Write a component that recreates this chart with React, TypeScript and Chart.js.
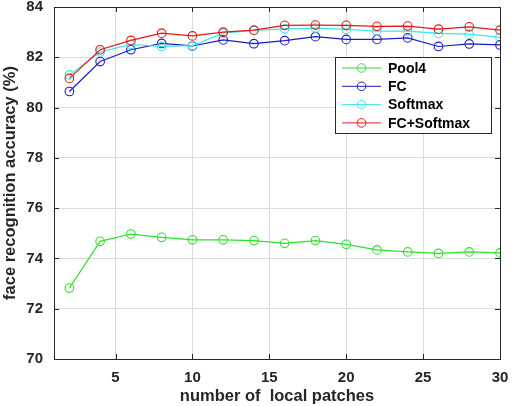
import React, { useEffect, useRef } from "react";
import { Chart, registerables } from "chart.js";

Chart.register(...registerables);

const xValues = [2, 4, 6, 8, 10, 12, 14, 16, 18, 20, 22, 24, 26, 28, 30];
const pool4 = [72.82, 74.68, 74.97, 74.84, 74.74, 74.74, 74.71, 74.6, 74.71, 74.56, 74.34, 74.26, 74.2, 74.26, 74.22];
const fc = [80.64, 81.83, 82.3, 82.55, 82.45, 82.69, 82.54, 82.66, 82.82, 82.71, 82.71, 82.77, 82.43, 82.53, 82.49];
const softmax = [81.3, 82.21, 82.51, 82.43, 82.46, 82.96, 83.07, 83.13, 83.16, 83.11, 83.04, 83.04, 82.95, 82.92, 82.79];
const fcSoftmax = [81.16, 82.3, 82.67, 82.96, 82.85, 83.0, 83.08, 83.27, 83.28, 83.27, 83.23, 83.24, 83.12, 83.21, 83.08];

const seriesNames = ["Pool4", "FC", "Softmax", "FC+Softmax"];
const seriesColors = ["#2fe02f", "#1c1cc4", "#3ee6e6", "#e01a1a"];
const xTicks = [5, 10, 15, 20, 25, 30];
const yTicks = [70, 72, 74, 76, 78, 80, 82, 84];

const FONT = "'Liberation Sans', Arial, sans-serif";
const AXIS_COLOR = "#262626";

const boxPlugin = {
  id: "boxPlugin",
  afterDatasetsDraw(chart: any) {
    const { ctx, chartArea: a, scales } = chart;
    ctx.save();
    ctx.strokeStyle = AXIS_COLOR;
    ctx.lineWidth = 1;
    ctx.strokeRect(Math.round(a.left) + 0.5, Math.round(a.top) + 0.5, Math.round(a.right - a.left), Math.round(a.bottom - a.top));
    const tl = 5;
    ctx.beginPath();
    for (const v of xTicks) {
      const px = Math.round(scales.x.getPixelForValue(v)) + 0.5;
      ctx.moveTo(px, a.bottom);
      ctx.lineTo(px, a.bottom - tl);
      ctx.moveTo(px, a.top);
      ctx.lineTo(px, a.top + tl);
    }
    for (const v of yTicks) {
      const py = Math.round(scales.y.getPixelForValue(v)) + 0.5;
      ctx.moveTo(a.left, py);
      ctx.lineTo(a.left + tl, py);
      ctx.moveTo(a.right, py);
      ctx.lineTo(a.right - tl, py);
    }
    ctx.stroke();

    // legend
    const lx = 335, ly = 57, lw = 156, lh = 76;
    ctx.fillStyle = "#ffffff";
    ctx.fillRect(lx, ly, lw, lh);
    ctx.strokeStyle = AXIS_COLOR;
    ctx.strokeRect(lx + 0.5, ly + 0.5, lw, lh);
    ctx.font = `bold 14px ${FONT}`;
    ctx.textBaseline = "middle";
    chart.data.datasets.forEach((ds: any, i: number) => {
      const y = ly + 11 + i * 18.3;
      ctx.strokeStyle = ds.borderColor;
      ctx.lineWidth = 1;
      ctx.beginPath();
      ctx.moveTo(lx + 7, y);
      ctx.lineTo(lx + 46, y);
      ctx.stroke();
      ctx.beginPath();
      ctx.arc(lx + 26.5, y, 4.3, 0, Math.PI * 2);
      ctx.stroke();
      ctx.fillStyle = "#000";
      ctx.fillText(ds.label, lx + 53, y + 1);
    });
    ctx.restore();
  },
};

export default function App() {
  const ref = useRef<HTMLCanvasElement>(null);
  useEffect(() => {
    const data = [pool4, fc, softmax, fcSoftmax];
    const chart = new Chart(ref.current!, {
      type: "line",
      data: {
        datasets: data.map((vals, i) => ({
          label: seriesNames[i],
          data: xValues.map((x, j) => ({ x, y: vals[j] })),
          borderColor: seriesColors[i],
          backgroundColor: "rgba(0,0,0,0)",
          borderWidth: 1.2,
          pointRadius: 4.3,
          pointBorderWidth: 1.1,
          pointBackgroundColor: "rgba(0,0,0,0)",
          pointBorderColor: seriesColors[i],
          tension: 0,
          order: 3 - i,
        })),
      },
      options: {
        animation: false,
        responsive: false,
        maintainAspectRatio: false,
        layout: { padding: { top: 7, right: 14, left: 0, bottom: 0 } },
        plugins: { legend: { display: false }, tooltip: { enabled: false } },
        scales: {
          x: {
            type: "linear",
            min: 1,
            max: 30,
            afterBuildTicks: (s: any) => {
              s.ticks = xTicks.map((v) => ({ value: v }));
            },
            afterFit: (s: any) => {
              s.height = 47;
              s.paddingLeft = 0;
              s.paddingRight = 0;
              s.paddingTop = 0;
              s.paddingBottom = 0;
            },
            border: { display: false },
            grid: { color: "#dcdcdc", drawTicks: false, lineWidth: 1 },
            ticks: {
              padding: 10,
              color: "#262626",
              font: { family: FONT, size: 15, weight: "bold" },
              maxRotation: 0,
            },
            title: {
              display: true,
              text: "number of  local patches",
              color: "#262626",
              font: { family: FONT, size: 16.5, weight: "bold" },
              padding: { top: 0, bottom: 0 },
            },
          },
          y: {
            type: "linear",
            min: 70,
            max: 84,
            afterBuildTicks: (s: any) => {
              s.ticks = yTicks.map((v) => ({ value: v }));
            },
            afterFit: (s: any) => {
              s.width = 54;
              s.paddingLeft = 0;
              s.paddingRight = 0;
              s.paddingTop = 0;
              s.paddingBottom = 0;
            },
            border: { display: false },
            grid: { color: "#dcdcdc", drawTicks: false, lineWidth: 1 },
            ticks: {
              padding: 11,
              color: "#262626",
              font: { family: FONT, size: 15, weight: "bold" },
            },
            title: {
              display: true,
              text: "face recognition accuracy (%)",
              color: "#262626",
              font: { family: FONT, size: 16.5, weight: "bold" },
              padding: { top: 1, bottom: 0 },
            },
          },
        },
      },
      plugins: [boxPlugin],
    });
    return () => chart.destroy();
  }, []);
  return (
    <div style={{ position: "absolute", left: 0, top: 0, width: 514, height: 406, background: "#fff" }}>
      <canvas ref={ref} width={514} height={406} style={{ width: 514, height: 406, display: "block" }} />
    </div>
  );
}
